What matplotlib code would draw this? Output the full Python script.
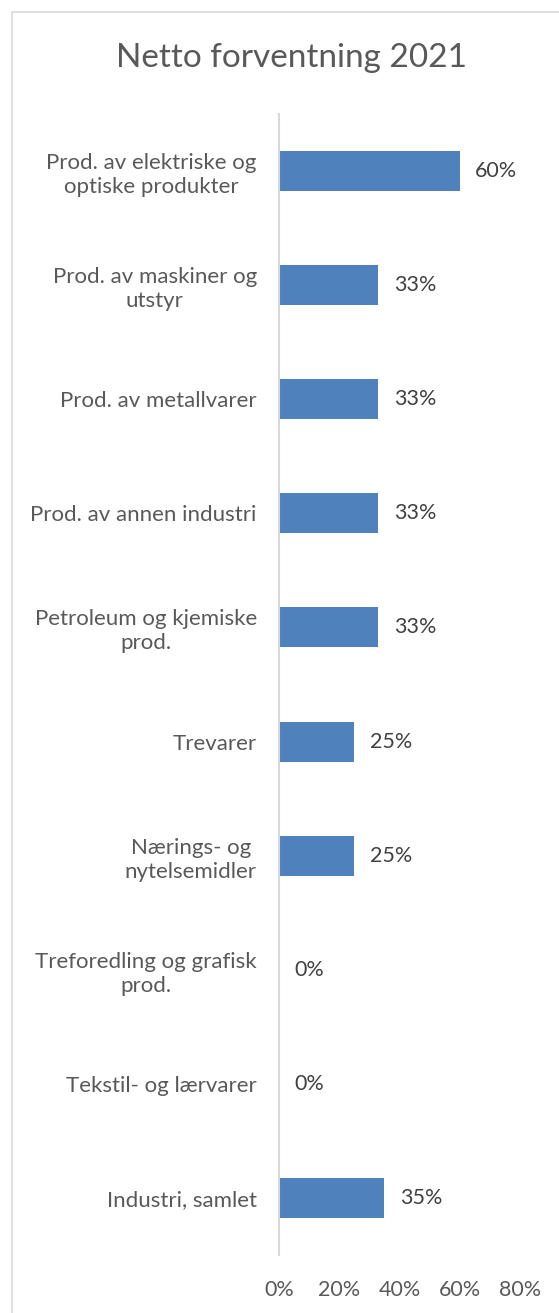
import matplotlib
matplotlib.use("Agg")
import matplotlib.pyplot as plt
from matplotlib.patches import Rectangle

categories = [
    "Prod. av elektriske og\noptiske produkter",
    "Prod. av maskiner og\nutstyr",
    "Prod. av metallvarer",
    "Prod. av annen industri",
    "Petroleum og kjemiske\nprod.",
    "Trevarer",
    "Nærings- og\nnytelsemidler",
    "Treforedling og grafisk\nprod.",
    "Tekstil- og lærvarer",
    "Industri, samlet",
]
values = [60, 33, 33, 33, 33, 25, 25, 0, 0, 35]
xticks = [0, 20, 40, 60, 80]
title = "Netto forventning 2021"

plt.rcParams['font.family'] = ['Lato', 'DejaVu Sans']
W, H = 559, 1313
fig = plt.figure(figsize=(W / 100, H / 100), dpi=100)
fig.patch.set_facecolor('white')

# chart border
fig.patches.append(Rectangle((12 / W, -0.01), 1.0, 1 - 12 / H + 0.01, transform=fig.transFigure,
                             fill=False, edgecolor='#D9D9D9', linewidth=1.2))

ax = fig.add_axes([279 / W, 1 - 1255 / H, (520 - 279) / W, (1255 - 114) / H])
y = list(range(len(categories)))
bars = ax.barh(y, values, height=0.35, color='#4F81BD')
ax.set_ylim(len(categories) - 0.5, -0.5)
ax.set_xlim(0, 80)
ax.set_yticks(y)
ax.set_yticklabels(categories, fontsize=16, color='#595959', multialignment='center',
                   linespacing=1.25)
ax.set_xticks(xticks)
ax.set_xticklabels([f"{t}%" for t in xticks], fontsize=15.5, color='#595959')
ax.tick_params(axis='y', length=0, pad=16)
ax.tick_params(axis='x', length=0, pad=18)
for s in ['top', 'right', 'bottom']:
    ax.spines[s].set_visible(False)
ax.spines['left'].set_color('#D9D9D9')
ax.spines['left'].set_linewidth(1.5)

for yi, v in zip(y, values):
    ax.annotate(f"{v}%", (v, yi), xytext=(11, 0), textcoords='offset points',
                ha='left', va='center', fontsize=15.5, color='#404040')

fig.text(291 / W, 1 - 58 / H, title, ha='center', va='center', fontsize=24, color='#595959')

fig.savefig('out.png', dpi=100)
